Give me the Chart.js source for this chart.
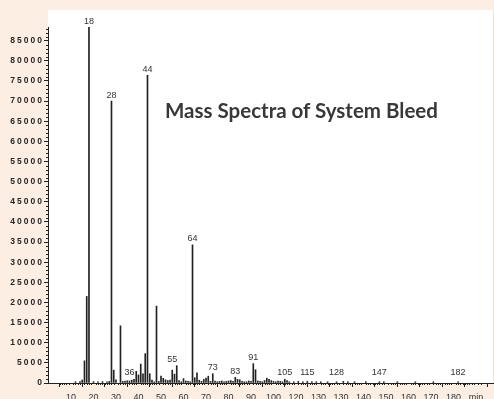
<!DOCTYPE html>
<html>
<head>
<meta charset="utf-8">
<script src="https://cdn.jsdelivr.net/npm/chart.js@4.4.1/dist/chart.umd.min.js"></script>
<style>
  html, body { margin: 0; padding: 0; background: #fdeee4; overflow: hidden; }
  #wrap { position: relative; width: 494px; height: 399px; }
  canvas { display: block; }
  #title {
    position: absolute; left: 165px; top: 98px;
    font: 700 20.5px Lato, "Open Sans", sans-serif; line-height: 24px;
    color: #383838; white-space: nowrap;
  }
</style>
</head>
<body>
<div id="wrap">
  <canvas id="chart" width="494" height="399"></canvas>
  <div id="title">Mass Spectra of System Bleed</div>
</div>
<script>
// m/z values and their abundances
const massNumbers = [
  12, 14, 15, 16, 17, 18, 20, 22, 24, 26, 27, 28, 29, 30, 32, 33, 34, 35, 36, 37, 38, 39,
  40, 41, 42, 43, 44, 45, 46, 47, 48, 49, 50, 51, 52, 53, 54, 55, 56, 57, 58, 59,
  60, 61, 62, 63, 64, 65, 66, 67, 68, 69, 70, 71, 72, 73, 74, 75, 76, 77, 78, 79,
  80, 81, 82, 83, 84, 85, 86, 87, 88, 89, 90, 91, 92, 93, 94, 95, 96, 97, 98, 99,
  100, 101, 102, 103, 104, 105, 106, 107, 109, 111, 113, 115, 117, 119, 121, 124, 128,
  131, 133, 136, 141, 147, 149, 155, 163, 171, 182
];
const abundances = [
  300, 350, 750, 5500, 21500, 88300, 350, 300, 350, 300, 400, 70000, 3200, 800, 14200, 400, 500, 550, 500, 700, 900, 2900,
  2000, 4700, 2300, 7300, 76400, 2300, 750, 300, 19100, 400, 1700, 1150, 800, 600, 700, 3200, 2200, 4300, 600, 300,
  1100, 500, 400, 300, 34300, 1300, 2500, 700, 400, 900, 1200, 1700, 400, 2300, 500, 300, 400, 500, 300, 400,
  500, 600, 400, 1400, 900, 800, 400, 300, 300, 500, 400, 4800, 3300, 500, 400, 300, 600, 1200, 900, 600,
  400, 300, 500, 400, 300, 900, 600, 300, 300, 400, 300, 400, 300, 300, 300, 300, 300,
  400, 300, 300, 300, 300, 300, 300, 300, 300, 300
];
// peaks that carry an m/z label
const labelledPeaks = [18, 28, 36, 44, 55, 64, 73, 83, 91, 105, 115, 128, 147, 182];
// bottom axis tick positions and their printed labels
const xTickValues = [10, 20, 30, 40, 50, 60, 70, 80, 90, 100, 110, 120, 130, 140, 150, 160, 170, 180, 190];
const xTickLabels = ['10', '20', '30', '40', '50', '60', '70', '80', '90', '100', '120', '130', '130', '140', '150', '160', '170', '180', 'min'];
// abundance axis ticks
const yTickValues = [0, 5000, 10000, 15000, 20000, 25000, 30000, 35000, 40000, 45000,
  50000, 55000, 60000, 65000, 70000, 75000, 80000, 85000];

const INK = '#222';

// white plotting panel behind the spectrum
const panelPlugin = {
  id: 'panel',
  beforeDraw(chart) {
    const { ctx, chartArea: a } = chart;
    ctx.save();
    ctx.fillStyle = '#ffffff';
    ctx.fillRect(a.left, 10, a.right - a.left, a.bottom - 10);
    ctx.strokeStyle = '#eee3da';
    ctx.lineWidth = 1;
    ctx.beginPath();
    ctx.moveTo(a.right + 0.5, 10);
    ctx.lineTo(a.right + 0.5, a.bottom);
    ctx.stroke();
    ctx.restore();
  }
};

// small minor ticks on both axes
const minorTickPlugin = {
  id: 'minorTicks',
  afterDraw(chart) {
    const { ctx, chartArea: a, scales: { x, y } } = chart;
    ctx.save();
    ctx.strokeStyle = INK;
    ctx.lineWidth = 1;
    ctx.beginPath();
    for (let v = 1000; v <= y.max; v += 1000) {
      if (v % 5000 === 0) continue;
      const py = Math.round(y.getPixelForValue(v)) + 0.5;
      ctx.moveTo(a.left - 2, py);
      ctx.lineTo(a.left, py);
    }
    for (let m = Math.ceil(x.min); m <= x.max; m++) {
      if (m % 10 === 0) continue;
      const px = Math.round(x.getPixelForValue(m)) + 0.5;
      ctx.moveTo(px, a.bottom);
      ctx.lineTo(px, a.bottom + 2);
    }
    ctx.stroke();
    ctx.restore();
  }
};

// m/z numbers above the labelled peaks
const peakLabelPlugin = {
  id: 'peakLabels',
  afterDatasetsDraw(chart) {
    const { ctx, scales: { x, y } } = chart;
    ctx.save();
    ctx.font = '9px "Liberation Sans", Arial, sans-serif';
    ctx.fillStyle = '#333';
    ctx.textAlign = 'center';
    ctx.textBaseline = 'middle';
    labelledPeaks.forEach(m => {
      let top = 1200;
      massNumbers.forEach((mm, i) => {
        if (Math.abs(mm - m) <= 2) top = Math.max(top, abundances[i]);
      });
      ctx.fillText(String(m), x.getPixelForValue(m), y.getPixelForValue(top) - 6);
    });
    ctx.restore();
  }
};

// spaced-out digits on the abundance axis
const spacedLabelsPlugin = {
  id: 'spacedLabels',
  beforeDraw(chart) {
    const ys = chart.scales.y;
    if (ys._spaced) return;
    const orig = ys.drawLabels;
    ys.drawLabels = function (area) {
      const c = this.ctx;
      c.save();
      c.letterSpacing = '2px';
      orig.call(this, area);
      c.restore();
    };
    ys._spaced = true;
  }
};

new Chart(document.getElementById('chart'), {
  type: 'bar',
  data: {
    datasets: [{
      data: massNumbers.map((m, i) => ({ x: m, y: abundances[i] })),
      backgroundColor: INK,
      borderWidth: 0,
      barThickness: 1
    }]
  },
  options: {
    responsive: false,
    animation: false,
    devicePixelRatio: 1,
    layout: { padding: { left: 0, top: 27, right: 1, bottom: 0 } },
    plugins: { legend: { display: false }, tooltip: { enabled: false } },
    scales: {
      x: {
        type: 'linear',
        min: 5,
        max: 192.3,
        afterBuildTicks: s => { s.ticks = xTickValues.map(v => ({ value: v })); },
        afterFit: s => { s.height = 16; },
        grid: { drawOnChartArea: false, drawTicks: true, tickLength: 4, tickColor: INK },
        border: { display: true, color: INK, width: 1 },
        ticks: {
          autoSkip: false, maxRotation: 0, padding: 5,
          color: '#333',
          font: { family: '"Liberation Sans", Arial, sans-serif', size: 9 },
          callback: (v, i) => xTickLabels[i]
        }
      },
      y: {
        min: 0,
        max: 88400,
        afterBuildTicks: s => { s.ticks = yTickValues.map(v => ({ value: v })); },
        afterFit: s => { s.width = 48; },
        grid: { drawOnChartArea: false, drawTicks: true, tickLength: 4, tickColor: INK },
        border: { display: true, color: INK, width: 1 },
        ticks: {
          autoSkip: false, padding: 0,
          color: '#262626',
          font: { family: '"Liberation Sans", Arial, sans-serif', size: 8.5, weight: 'bold' },
          callback: v => String(v)
        }
      }
    }
  },
  plugins: [panelPlugin, spacedLabelsPlugin, minorTickPlugin, peakLabelPlugin]
});
</script>
</body>
</html>
